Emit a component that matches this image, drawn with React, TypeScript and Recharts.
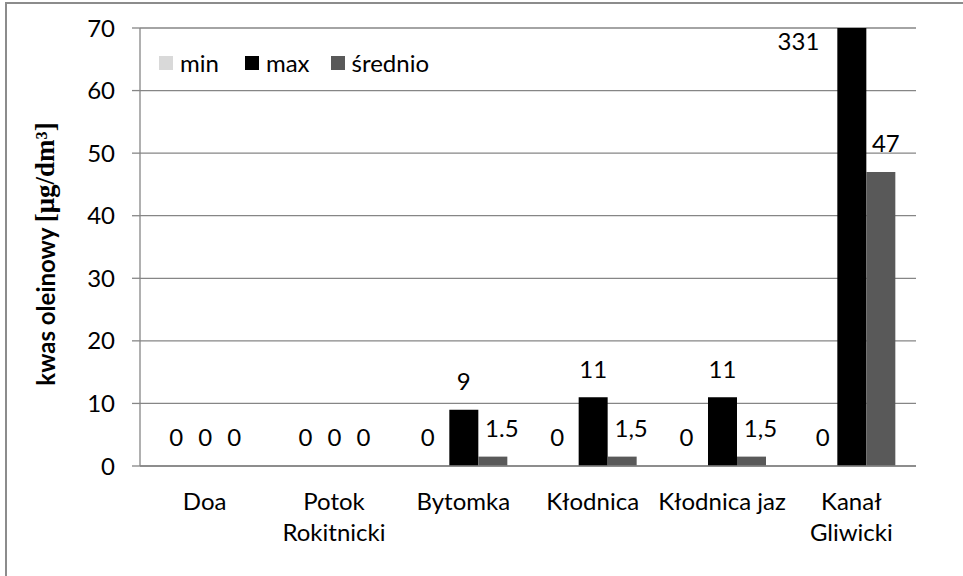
import React from 'react';
import { BarChart, Bar, XAxis, YAxis, CartesianGrid, LabelList } from 'recharts';

const categories = ['Doa', 'Potok\nRokitnicki', 'Bytomka', 'Kłodnica', 'Kłodnica jaz', 'Kanał\nGliwicki'];
const minValues = [0, 0, 0, 0, 0, 0];
const maxValues = [0, 0, 9, 11, 11, 331];
const avgValues = [0, 0, 1.5, 1.5, 1.5, 47];
// etykiety jak w oryginale (raz kropka, raz przecinek)
const avgLabels = ['0', '0', '1.5', '1,5', '1,5', '47'];
const yTicks = [0, 10, 20, 30, 40, 50, 60, 70];

const series = [
  { key: 'min', label: 'min', color: '#d9d9d9' },
  { key: 'max', label: 'max', color: '#000000' },
  { key: 'avg', label: 'średnio', color: '#595959' },
];

const rows = categories.map((name, i) => ({
  name,
  min: minValues[i],
  max: maxValues[i],
  avg: avgValues[i],
  avgLabel: avgLabels[i],
}));

const FONT = 'Lato, "Open Sans", sans-serif';
const FS = 24;
const Y_MAX = 70;
const GRID = '#868686';

// etykieta nad słupkiem; wartość poza skalą -> obok szczytu słupka.
// side: -1 / +1 odsuwa etykietę od czarnego słupka, gdy ten jest widoczny
const BarLabel: React.FC<any> = (props) => {
  const { x, y, width, height, value, index, side = 0 } = props;
  const num = Number(String(value).replace(',', '.'));
  if (num > Y_MAX) {
    const top = y + height - (height * Y_MAX) / num;
    return (
      <text x={x - 18} y={top + 14 + FS * 0.35} textAnchor="end" fontSize={FS} fontFamily={FONT} fill="#000">
        {value}
      </text>
    );
  }
  const neighbour = maxValues[index];
  let dx = 0;
  if (side < 0 && neighbour > 0 && neighbour <= Y_MAX) dx = -7;
  if (side > 0 && neighbour > 0) dx = neighbour > Y_MAX ? 5 : 9;
  return (
    <text
      x={x + width / 2 + dx}
      y={y - 28 + FS * 0.35}
      textAnchor="middle"
      fontSize={FS}
      fontFamily={FONT}
      fill="#000"
    >
      {value}
    </text>
  );
};

const CategoryTick: React.FC<any> = ({ x, y, payload }) => {
  const lines = String(payload.value).split('\n');
  return (
    <text x={x} y={y} textAnchor="middle" fontSize={FS} fontFamily={FONT} fill="#000">
      {lines.map((l, i) => (
        <tspan key={i} x={x} dy={i === 0 ? 44 : 31}>
          {l}
        </tspan>
      ))}
    </text>
  );
};

const YTitle: React.FC<any> = () => (
  <text
    x={45}
    y={254}
    transform="rotate(-90 45 254)"
    textAnchor="middle"
    dominantBaseline="central"
    fill="#000"
    fontWeight="bold"
  >
    <tspan fontFamily={FONT} fontSize={24}>kwas oleinowy </tspan>
    <tspan fontFamily='"Liberation Serif", "DejaVu Serif", serif' fontSize={27}>
      [μg/dm³]
    </tspan>
  </text>
);

export default function App() {
  return (
    <div style={{ position: 'absolute', left: 0, top: 0, width: 963, height: 576, background: '#fff' }}>
      <div
        style={{
          position: 'absolute',
          left: 5,
          top: 2,
          width: 958,
          height: 574,
          borderLeft: '2px solid #8c8c8c',
          borderTop: '2px solid #8c8c8c',
          boxSizing: 'border-box',
        }}
      />
      <div style={{ position: 'absolute', left: 0, top: 0 }}>
        <BarChart
          width={963}
          height={576}
          data={rows}
          margin={{ top: 28, right: 47, left: 0, bottom: 0 }}
          barCategoryGap="16.75%"
          barGap={0}
        >
          <CartesianGrid vertical={false} stroke={GRID} strokeWidth={1.3} />
          <XAxis
            dataKey="name"
            height={110}
            interval={0}
            tickSize={0}
            tickMargin={0}
            tickLine={false}
            axisLine={{ stroke: GRID, strokeWidth: 1.3 }}
            tick={<CategoryTick />}
          />
          <YAxis
            width={140}
            domain={[0, Y_MAX]}
            ticks={yTicks}
            allowDataOverflow
            tickSize={8}
            tickMargin={17}
            axisLine={{ stroke: GRID, strokeWidth: 1.3 }}
            tickLine={{ stroke: GRID, strokeWidth: 1.3 }}
            tick={{ fontSize: FS, fontFamily: FONT, fill: '#000' }}
            label={{ content: () => <YTitle /> }}
          />
          <Bar dataKey="min" fill={series[0].color} minPointSize={0.01} isAnimationActive={false}>
            <LabelList dataKey="min" content={<BarLabel side={-1} />} />
          </Bar>
          <Bar dataKey="max" fill={series[1].color} minPointSize={0.01} isAnimationActive={false}>
            <LabelList dataKey="max" content={<BarLabel />} />
          </Bar>
          <Bar dataKey="avg" fill={series[2].color} minPointSize={0.01} isAnimationActive={false}>
            <LabelList dataKey="avgLabel" content={<BarLabel side={1} />} />
          </Bar>
        </BarChart>
      </div>
      {/* legenda wewnątrz obszaru wykresu */}
      <div
        style={{
          position: 'absolute',
          left: 159,
          top: 50,
          display: 'flex',
          alignItems: 'center',
          fontFamily: FONT,
          fontSize: FS,
          lineHeight: '26px',
          color: '#000',
        }}
      >
        {series.map((s, i) => (
          <div key={s.key} style={{ display: 'flex', alignItems: 'center', marginRight: i === 0 ? 26 : 21 }}>
            <span style={{ width: 14, height: 14, background: s.color, display: 'inline-block', marginRight: 7 }} />
            <span>{s.label}</span>
          </div>
        ))}
      </div>
    </div>
  );
}
